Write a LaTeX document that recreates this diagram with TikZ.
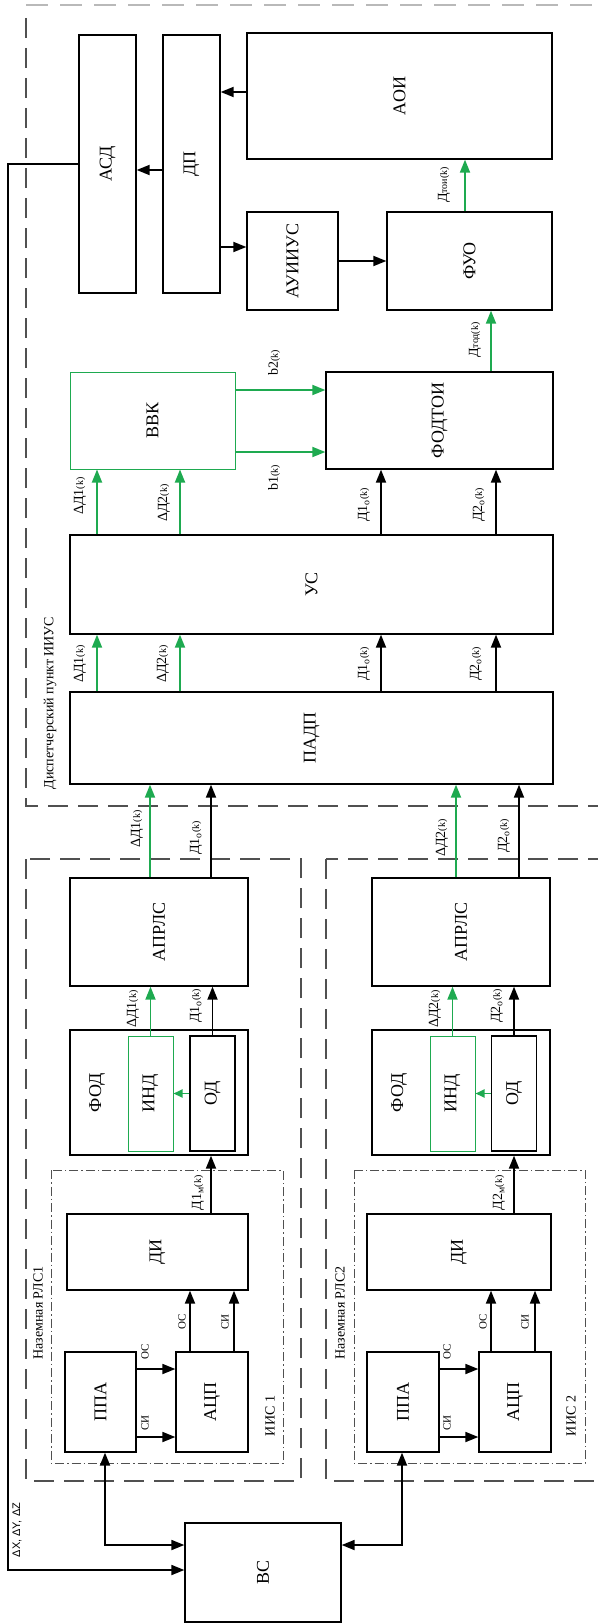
\documentclass[tikz,border=0pt]{standalone}
\usepackage{fontspec}
\setmainfont{Liberation Serif}
\newfontfamily\sansf{Liberation Sans}
\usetikzlibrary{arrows.meta}
\definecolor{grn}{RGB}{30,170,80}
\definecolor{dgray}{RGB}{80,80,80}
\newcommand{\kk}{{\fontsize{10}{10}\selectfont(k)}}
\newcommand{\sm}[1]{{\fontsize{10}{10}\selectfont #1}}
\newcommand{\myrot}[1]{\rotatebox{90}{#1}}
\begin{document}
\begin{tikzpicture}[x=1pt,y=-1pt,
 box/.style={draw,line width=1.3pt,inner sep=0pt,font=\fontsize{18}{18}\selectfont},
 gbox/.style={box,draw=grn,line width=1pt},
 arr/.style={-{Triangle[length=13pt,width=10pt]},line width=1.8pt},
 garr/.style={arr,color=grn},
 barr/.style={{Triangle[length=13pt,width=10pt]}-{Triangle[length=13pt,width=10pt]},line width=1.8pt},
 lbl/.style={rotate=90,inner sep=0pt,font=\fontsize{14}{14}\selectfont},
 small/.style={rotate=90,inner sep=0pt,font=\fontsize{11}{11}\selectfont},
 frame/.style={rotate=90,inner sep=0pt,font=\fontsize{14}{14}\selectfont},
 dsh/.style={draw=dgray,line width=1.2pt,dash pattern=on 20pt off 10pt},
 dd/.style={draw=dgray,line width=1pt,dash pattern=on 9pt off 3pt on 1.5pt off 3pt}]
\useasboundingbox (0,0) rectangle (597,1624);

% frames
\draw[draw=gray!55,line width=2pt,dash pattern=on 22pt off 12pt] (26,5) -- (597,5);
\draw[dsh] (26,18) -- (26,806) -- (620,806);
\draw[dsh] (26,859) rectangle (301,1481);
\draw[dsh] (326,859) rectangle (640,1481);
\draw[dd] (51,1170) rectangle (283,1463);
\draw[dd] (354,1170) rectangle (585,1463);

% boxes
\node[box,minimum width=57pt,minimum height=258pt] (asd) at (107.5,164) {\myrot{АСД}};
\node[box,minimum width=57pt,minimum height=258pt] (dp) at (191.5,164) {\myrot{ДП}};
\node[box,minimum width=305pt,minimum height=126pt] (aoi) at (399.5,96) {\myrot{АОИ}};
\node[box,minimum width=91pt,minimum height=98pt] (auiius) at (292.5,261) {\myrot{АУИИУС}};
\node[box,minimum width=165pt,minimum height=98pt] (fuo) at (469.5,261) {\myrot{ФУО}};
\node[gbox,minimum width=165pt,minimum height=97pt] (vvk) at (152.5,420.5) {\myrot{ВВК}};
\node[box,minimum width=227pt,minimum height=97pt] (fodtoi) at (439.5,420.5) {\myrot{ФОДТОИ}};
\node[box,minimum width=483pt,minimum height=99pt] (us) at (311.5,584.5) {\myrot{УС}};
\node[box,minimum width=483pt,minimum height=92pt] (padp) at (311.5,738) {\myrot{ПАДП}};

\node[box,minimum width=178pt,minimum height=108pt] (aprA) at (159,932) {\myrot{АПРЛС}};
\node[box,minimum width=178pt,minimum height=108pt] (aprB) at (461,932) {\myrot{АПРЛС}};

\node[box,minimum width=178pt,minimum height=125pt] (fodA) at (159,1092.5) {};
\node[box,minimum width=178pt,minimum height=125pt] (fodB) at (461,1092.5) {};
\node[lbl,font=\fontsize{18}{18}\selectfont] (fodAt) at (97,1093) {ФОД};
\node[lbl,font=\fontsize{18}{18}\selectfont] (fodBt) at (399,1093) {ФОД};
\node[gbox,minimum width=45pt,minimum height=115pt] (indA) at (150.5,1093.5) {\myrot{ИНД}};
\node[box,minimum width=45pt,minimum height=115pt] (odA) at (212.5,1093.5) {\myrot{ОД}};
\node[gbox,minimum width=45pt,minimum height=115pt] (indB) at (452.5,1093.5) {\myrot{ИНД}};
\node[box,minimum width=45pt,minimum height=115pt] (odB) at (514,1093.5) {\myrot{ОД}};

\node[box,minimum width=181pt,minimum height=76pt] (diA) at (157.5,1252) {\myrot{ДИ}};
\node[box,minimum width=184pt,minimum height=76pt] (diB) at (459,1252) {\myrot{ДИ}};

\node[box,minimum width=71pt,minimum height=100pt] (ppaA) at (100.5,1402) {\myrot{ППА}};
\node[box,minimum width=72pt,minimum height=100pt] (acpA) at (212,1402) {\myrot{АЦП}};
\node[box,minimum width=72pt,minimum height=100pt] (ppaB) at (403,1402) {\myrot{ППА}};
\node[box,minimum width=72pt,minimum height=100pt] (acpB) at (515,1402) {\myrot{АЦП}};

\node[box,minimum width=156pt,minimum height=99pt] (vs) at (263,1572.5) {\myrot{ВС}};

% frame labels
\node[frame] (tdisp) at (50,703) {Диспетчерский пункт ИИУС};
\node[frame] (trlsA) at (38,1313) {Наземная РЛС1};
\node[frame] (trlsB) at (340,1313) {Наземная РЛС2};
\node[lbl] (tiisA) at (270,1416) {ИИС 1};
\node[lbl] (tiisB) at (571,1416) {ИИС 2};

% top part connectors
\draw[arr] (aoi.west|-0,92) -- (dp.east|-0,92);
\draw[arr] (dp.west|-0,170) -- (asd.east|-0,170);
\draw[arr] (dp.east|-0,247) -- (auiius.west|-0,247);
\draw[arr] (auiius.east) -- (fuo.west);
\draw[garr] (fuo.north-|465,0) -- (aoi.south-|465,0);
\node[lbl] (lDtoi) at (444,185) {Д\sm{тои}\kk};
\draw[garr] (fodtoi.north-|491,0) -- (fuo.south-|491,0);
\node[lbl] (lDtod) at (475,340) {Д\sm{тод}\kk};

\draw[garr] (vvk.east|-0,390) -- (fodtoi.west|-0,390);
\draw[garr] (vvk.east|-0,452) -- (fodtoi.west|-0,452);
\node[lbl] (lb2) at (274,363) {b2\kk};
\node[lbl] (lb1) at (274,478) {b1\kk};

% US -> VVK / FODTOI
\draw[garr] (us.north-|97,0) -- (vvk.south-|97,0);
\draw[garr] (us.north-|180,0) -- (vvk.south-|180,0);
\draw[arr] (us.north-|381,0) -- (fodtoi.south-|381,0);
\draw[arr] (us.north-|496,0) -- (fodtoi.south-|496,0);
\node[lbl] (l1) at (80,496) {ΔД1\kk};
\node[lbl] (l2) at (164,503) {ΔД2\kk};
\node[lbl] (l3) at (364,505) {Д1\textsubscript{о}\kk};
\node[lbl] (l4) at (479,505) {Д2\textsubscript{о}\kk};

% PADP -> US
\draw[garr] (padp.north-|97,0) -- (us.south-|97,0);
\draw[garr] (padp.north-|180,0) -- (us.south-|180,0);
\draw[arr] (padp.north-|381,0) -- (us.south-|381,0);
\draw[arr] (padp.north-|496,0) -- (us.south-|496,0);
\node[lbl] (l5) at (80,664) {ΔД1\kk};
\node[lbl] (l6) at (163,664) {ΔД2\kk};
\node[lbl] (l7) at (364,664) {Д1\textsubscript{о}\kk};
\node[lbl] (l8) at (476,664) {Д2\textsubscript{о}\kk};

% APRLS -> PADP
\draw[garr] (aprA.north-|150,0) -- (padp.south-|150,0);
\draw[arr] (aprA.north-|211,0) -- (padp.south-|211,0);
\draw[garr] (aprB.north-|456,0) -- (padp.south-|456,0);
\draw[arr] (aprB.north-|519,0) -- (padp.south-|519,0);
\node[lbl] (l9) at (137,829) {ΔД1\kk};
\node[lbl] (l10) at (196,838) {Д1\textsubscript{о}\kk};
\node[lbl] (l11) at (442,838) {ΔД2\kk};
\node[lbl] (l12) at (504,836) {Д2\textsubscript{о}\kk};

% FOD -> APRLS
\draw[garr] (indA.north) -- (aprA.south-|indA.north);
\draw[arr] (odA.north) -- (aprA.south-|odA.north);
\draw[garr] (indB.north) -- (aprB.south-|indB.north);
\draw[arr] (odB.north) -- (aprB.south-|odB.north);
\node[lbl] (l13) at (133,1009) {ΔД1\kk};
\node[lbl] (l14) at (196,1006) {Д1\textsubscript{о}\kk};
\node[lbl] (l15) at (435,1009) {ΔД2\kk};
\node[lbl] (l16) at (497,1006) {Д2\textsubscript{о}\kk};

% OD -> IND
\draw[garr,-{Triangle[length=9pt,width=8pt]}] (odA.west) -- (indA.east);
\draw[garr,-{Triangle[length=9pt,width=8pt]}] (odB.west) -- (indB.east);

% DI -> FOD
\draw[arr] (diA.north-|211,0) -- (fodA.south-|211,0);
\draw[arr] (diB.north-|514,0) -- (fodB.south-|514,0);
\node[lbl] (l17) at (198,1193) {Д1\textsubscript{м}\kk};
\node[lbl] (l18) at (499,1193) {Д2\textsubscript{м}\kk};

% PPA -> ACP
\draw[arr] (ppaA.east|-0,1369) -- (acpA.west|-0,1369);
\draw[arr] (ppaA.east|-0,1437) -- (acpA.west|-0,1437);
\draw[arr] (ppaB.east|-0,1369) -- (acpB.west|-0,1369);
\draw[arr] (ppaB.east|-0,1437) -- (acpB.west|-0,1437);
\node[small] (s1) at (145,1352) {ОС};
\node[small] (s2) at (145,1423) {СИ};
\node[small] (s3) at (447,1352) {ОС};
\node[small] (s4) at (447,1423) {СИ};

% ACP -> DI
\draw[arr] (acpA.north-|190,0) -- (diA.south-|190,0);
\draw[arr] (acpA.north-|234,0) -- (diA.south-|234,0);
\draw[arr] (acpB.north-|491,0) -- (diB.south-|491,0);
\draw[arr] (acpB.north-|535,0) -- (diB.south-|535,0);
\node[small] (s5) at (182,1322) {ОС};
\node[small] (s6) at (225,1322) {СИ};
\node[small] (s7) at (483,1322) {ОС};
\node[small] (s8) at (525,1322) {СИ};

% PPA <-> VS
\coordinate (cA) at (105,1545);
\coordinate (cB) at (402,1545);
\draw[barr] (ppaA.south-|cA) -- (cA) -- (vs.west|-cA);
\draw[barr] (ppaB.south-|cB) -- (cB) -- (vs.east|-cB);

% ASD -> VS
\coordinate (cL) at (7.6,1570);
\draw[arr] (asd.west) -| (cL) -- (vs.west|-cL);
\node[rotate=90,inner sep=0pt,font=\sansf\fontsize{11}{11}\selectfont] (ldxyz) at (17,1530) {ΔX, ΔY, ΔZ};
\end{tikzpicture}
\end{document}
